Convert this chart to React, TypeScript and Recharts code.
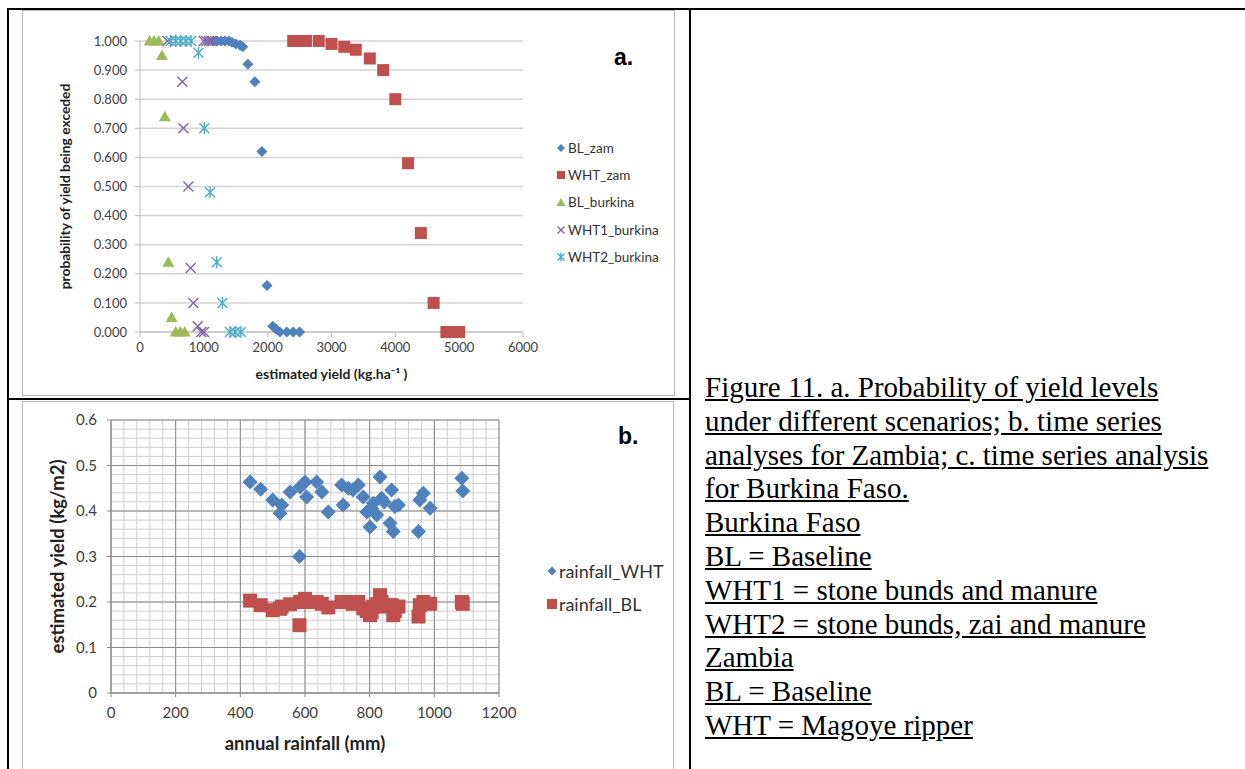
import React from 'react';
import { ScatterChart, Scatter, XAxis, YAxis, CartesianGrid } from 'recharts';

// ---- chart a: probability of yield being exceeded ----
const BL_ZAM_X = [1150, 1210, 1270, 1330, 1390, 1440, 1500, 1570, 1610, 1690, 1800, 1910, 1990, 2080, 2130, 2190, 2300, 2400, 2500];
const BL_ZAM_Y = [1, 1, 1, 1, 1, 0.996, 0.99, 0.985, 0.98, 0.92, 0.86, 0.62, 0.16, 0.02, 0.01, 0, 0, 0, 0];

const WHT_ZAM_X = [2400, 2500, 2600, 2800, 3000, 3200, 3380, 3600, 3810, 4000, 4200, 4400, 4600, 4800, 4900, 5000];
const WHT_ZAM_Y = [1, 1, 1, 1, 0.99, 0.98, 0.97, 0.94, 0.9, 0.8, 0.58, 0.34, 0.1, 0, 0, 0];

const BL_BURKINA_X = [150, 220, 290, 345, 390, 444, 496, 560, 630, 700];
const BL_BURKINA_Y = [1, 1, 1, 0.95, 0.74, 0.24, 0.05, 0, 0, 0];

const WHT1_BURKINA_X = [430, 1000, 1040, 1080, 1120, 663, 680, 758, 794, 836, 904, 960, 1003];
const WHT1_BURKINA_Y = [1, 1, 1, 1, 1, 0.86, 0.7, 0.5, 0.22, 0.1, 0.02, 0, 0];

const WHT2_BURKINA_X = [480, 560, 640, 720, 800, 915, 1008, 1097, 1202, 1290, 1410, 1490, 1580];
const WHT2_BURKINA_Y = [1, 1, 1, 1, 1, 0.96, 0.7, 0.48, 0.24, 0.1, 0, 0, 0];

const YIELD_TICKS = [0, 1000, 2000, 3000, 4000, 5000, 6000];
const PROB_TICKS = [0, 0.1, 0.2, 0.3, 0.4, 0.5, 0.6, 0.7, 0.8, 0.9, 1];

// ---- chart b: Zambia time series ----
const RAINFALL = [430, 463, 500, 523, 528, 554, 583, 585, 600, 605, 636, 652, 672, 713, 718, 734, 748, 765, 780, 791, 801, 806, 811, 822, 832, 837, 845, 863, 868, 873, 878, 889, 951, 955, 966, 987, 1085, 1088];
const YIELD_WHT = [0.464, 0.448, 0.424, 0.395, 0.413, 0.442, 0.3, 0.453, 0.464, 0.431, 0.464, 0.442, 0.398, 0.457, 0.413, 0.45, 0.446, 0.457, 0.431, 0.398, 0.365, 0.405, 0.417, 0.391, 0.475, 0.428, 0.42, 0.373, 0.446, 0.355, 0.41, 0.413, 0.355, 0.424, 0.439, 0.406, 0.472, 0.444];
const YIELD_BL = [0.203, 0.193, 0.182, 0.185, 0.19, 0.195, 0.149, 0.2, 0.207, 0.2, 0.2, 0.196, 0.188, 0.2, 0.2, 0.2, 0.196, 0.2, 0.186, 0.18, 0.171, 0.178, 0.19, 0.195, 0.215, 0.2, 0.19, 0.193, 0.193, 0.171, 0.18, 0.19, 0.168, 0.193, 0.2, 0.196, 0.2, 0.196];

const RAIN_TICKS = [0, 200, 400, 600, 800, 1000, 1200];
const KG_TICKS = [0, 0.1, 0.2, 0.3, 0.4, 0.5, 0.6];
// minor gridlines (every 40 mm / 0.02 kg)
const RAIN_MINOR = Array.from({ length: 31 }, (_, i) => i * 40);
const KG_MINOR = Array.from({ length: 31 }, (_, i) => i / 50);

const CAPTION = [
  'Figure 11. a. Probability of yield levels',
  'under different scenarios; b. time series',
  'analyses for Zambia; c. time series analysis',
  'for Burkina Faso.',
  'Burkina Faso',
  'BL = Baseline',
  'WHT1 = stone bunds and manure',
  'WHT2 = stone bunds, zai and manure',
  'Zambia',
  'BL = Baseline',
  'WHT = Magoye ripper',
];

const BLUE = '#4F81BD';
const RED = '#C0504D';
const GREEN = '#9BBB59';
const PURPLE = '#8064A2';
const CYAN = '#4BACC6';
const FONT = 'Lato, "Open Sans", sans-serif';

const zip = (xs: number[], ys: number[]) => xs.map((x, i) => ({ x, y: ys[i] }));

const diamond = (r: number, fill: string) => (p: any) => (
  <path d={`M${p.cx},${p.cy - r}L${p.cx + r},${p.cy}L${p.cx},${p.cy + r}L${p.cx - r},${p.cy}Z`} fill={fill} />
);
const square = (r: number, fill: string) => (p: any) => (
  <rect x={p.cx - r} y={p.cy - r} width={r * 2} height={r * 2} fill={fill} />
);
const triangle = (r: number, fill: string) => (p: any) => (
  <path d={`M${p.cx},${p.cy - r}L${p.cx + r},${p.cy + r * 0.75}L${p.cx - r},${p.cy + r * 0.75}Z`} fill={fill} />
);
const cross = (r: number, stroke: string) => (p: any) => (
  <path
    d={`M${p.cx - r},${p.cy - r}L${p.cx + r},${p.cy + r}M${p.cx - r},${p.cy + r}L${p.cx + r},${p.cy - r}`}
    stroke={stroke}
    strokeWidth={1.4}
    fill="none"
  />
);
const star = (r: number, stroke: string) => (p: any) => (
  <path
    d={`M${p.cx - r},${p.cy - r}L${p.cx + r},${p.cy + r}M${p.cx - r},${p.cy + r}L${p.cx + r},${p.cy - r}M${p.cx},${p.cy - r * 1.2}L${p.cx},${p.cy + r * 1.2}`}
    stroke={stroke}
    strokeWidth={1.4}
    fill="none"
  />
);

const tickStyle = (size: number) => ({ fontSize: size, fill: '#404040', fontFamily: FONT });

function LegendRow({ top, left, icon, label, size }: { top: number; left: number; icon: React.ReactNode; label: string; size: number }) {
  return (
    <div style={{ position: 'absolute', top, left, display: 'flex', alignItems: 'center', fontFamily: FONT, fontSize: size, color: '#333', whiteSpace: 'nowrap' }}>
      <svg width={10} height={10} style={{ marginRight: 2 }}>
        {icon}
      </svg>
      {label}
    </div>
  );
}

function ChartA() {
  return (
    <div style={{ position: 'absolute', left: 22, top: 10, width: 653, height: 386, border: '1px solid #b8b8b8', boxSizing: 'border-box', background: '#fff' }}>
      <div style={{ position: 'absolute', left: -1, top: -1 }}>
        <ScatterChart width={653} height={386} margin={{ top: 31, right: 152, bottom: 0, left: 0 }}>
          <CartesianGrid vertical={false} stroke="#d3d3d3" strokeWidth={1.5} />
          <XAxis
            type="number"
            dataKey="x"
            domain={[0, 6000]}
            ticks={YIELD_TICKS}
            height={64}
            tick={tickStyle(13)}
            tickSize={5}
            tickMargin={6}
            axisLine={{ stroke: '#bcbcbc' }}
            tickLine={{ stroke: '#bcbcbc' }}
            label={{ value: 'estimated yield (kg.ha\u207B\u00B9 )', position: 'insideBottom', offset: 17, style: { fontWeight: 'bold', fontSize: 14, fill: '#222', fontFamily: FONT } }}
          />
          <YAxis
            type="number"
            dataKey="y"
            domain={[0, 1]}
            ticks={PROB_TICKS}
            width={118}
            tickFormatter={(v: number) => v.toFixed(3)}
            tick={tickStyle(13)}
            tickSize={5}
            tickMargin={8}
            axisLine={{ stroke: '#bcbcbc' }}
            tickLine={{ stroke: '#bcbcbc' }}
            label={{ value: 'probability of yield being exceded', angle: -90, position: 'insideLeft', offset: 43, style: { textAnchor: 'middle', fontWeight: 'bold', fontSize: 13.8, fill: '#222', fontFamily: FONT } }}
          />
          <Scatter name="BL_zam" data={zip(BL_ZAM_X, BL_ZAM_Y)} shape={diamond(5.5, BLUE)} isAnimationActive={false} />
          <Scatter name="WHT_zam" data={zip(WHT_ZAM_X, WHT_ZAM_Y)} shape={square(6, RED)} isAnimationActive={false} />
          <Scatter name="BL_burkina" data={zip(BL_BURKINA_X, BL_BURKINA_Y)} shape={triangle(6, GREEN)} isAnimationActive={false} />
          <Scatter name="WHT1_burkina" data={zip(WHT1_BURKINA_X, WHT1_BURKINA_Y)} shape={cross(5, PURPLE)} isAnimationActive={false} />
          <Scatter name="WHT2_burkina" data={zip(WHT2_BURKINA_X, WHT2_BURKINA_Y)} shape={star(5, CYAN)} isAnimationActive={false} />
        </ScatterChart>
      </div>
      <div style={{ position: 'absolute', left: 591, top: 33, fontFamily: '"Liberation Sans", Arial, sans-serif', fontWeight: 'bold', fontSize: 23, color: '#000' }}>a.</div>
      <LegendRow top={129} left={533} size={13.5} label="BL_zam" icon={diamond(4, BLUE)({ cx: 5, cy: 5 })} />
      <LegendRow top={156} left={533} size={13.5} label="WHT_zam" icon={square(4, RED)({ cx: 5, cy: 5 })} />
      <LegendRow top={183} left={533} size={13.5} label="BL_burkina" icon={triangle(4.5, GREEN)({ cx: 5, cy: 5.5 })} />
      <LegendRow top={211} left={533} size={13.5} label="WHT1_burkina" icon={cross(3.5, PURPLE)({ cx: 5, cy: 5 })} />
      <LegendRow top={238} left={533} size={13.5} label="WHT2_burkina" icon={star(3.5, CYAN)({ cx: 5, cy: 5 })} />
    </div>
  );
}

function ChartB() {
  return (
    <div style={{ position: 'absolute', left: 22, top: 401, width: 652, height: 380, border: '1px solid #b8b8b8', boxSizing: 'border-box', background: '#fff' }}>
      <div style={{ position: 'absolute', left: -1, top: -1 }}>
        <ScatterChart width={651} height={368} margin={{ top: 19, right: 174, bottom: 0, left: 0 }}>
          <CartesianGrid stroke="#cdcdcd" verticalValues={RAIN_MINOR} horizontalValues={KG_MINOR} />
          <CartesianGrid stroke="#8a8a8a" fill="none" />
          <XAxis
            type="number"
            dataKey="x"
            domain={[0, 1200]}
            ticks={RAIN_TICKS}
            interval={0}
            height={76}
            tick={tickStyle(15)}
            tickSize={4}
            tickMargin={10}
            axisLine={{ stroke: '#8a8a8a' }}
            tickLine={{ stroke: '#8a8a8a' }}
            label={{ value: 'annual rainfall (mm)', position: 'insideBottom', offset: 19, style: { fontWeight: 'bold', fontSize: 18.5, fill: '#222', fontFamily: FONT } }}
          />
          <YAxis
            type="number"
            dataKey="y"
            domain={[0, 0.6]}
            ticks={KG_TICKS}
            interval={0}
            width={89}
            tick={tickStyle(15)}
            tickSize={4}
            tickMargin={10}
            axisLine={{ stroke: '#8a8a8a' }}
            tickLine={{ stroke: '#8a8a8a' }}
            label={{ value: 'estimated yield (kg/m2)', angle: -90, position: 'insideLeft', offset: 35, style: { textAnchor: 'middle', fontWeight: 'bold', fontSize: 18.5, fill: '#222', fontFamily: FONT } }}
          />
          <Scatter name="rainfall_WHT" data={zip(RAINFALL, YIELD_WHT)} shape={diamond(7.5, BLUE)} isAnimationActive={false} />
          <Scatter name="rainfall_BL" data={zip(RAINFALL, YIELD_BL)} shape={square(7, RED)} isAnimationActive={false} />
        </ScatterChart>
      </div>
      <div style={{ position: 'absolute', left: 595, top: 21, fontFamily: '"Liberation Sans", Arial, sans-serif', fontWeight: 'bold', fontSize: 23, color: '#000' }}>b.</div>
      <LegendRow top={158} left={524} size={18} label="rainfall_WHT" icon={diamond(4.5, BLUE)({ cx: 5, cy: 5 })} />
      <LegendRow top={191} left={524} size={18} label="rainfall_BL" icon={square(5, RED)({ cx: 5, cy: 5 })} />
    </div>
  );
}

export default function App() {
  return (
    <div style={{ position: 'relative', width: 1245, height: 769, background: '#fff', overflow: 'hidden' }}>
      <style>{'body{margin:0}'}</style>
      <ChartA />
      <ChartB />
      {/* table rules */}
      <div style={{ position: 'absolute', left: 7, top: 8, width: 1238, height: 2, background: '#000' }} />
      <div style={{ position: 'absolute', left: 7, top: 8, width: 2, height: 761, background: '#000' }} />
      <div style={{ position: 'absolute', left: 689, top: 8, width: 2, height: 761, background: '#000' }} />
      <div style={{ position: 'absolute', left: 7, top: 398, width: 684, height: 2, background: '#000' }} />
      <div style={{ position: 'absolute', left: 705, top: 371, fontFamily: '"Liberation Serif", "Times New Roman", serif', fontSize: 29, lineHeight: '33.8px', color: '#000' }}>
        {CAPTION.map((line, i) => (
          <div key={i} style={{ textDecoration: 'underline', whiteSpace: 'nowrap' }}>
            {line}
          </div>
        ))}
      </div>
    </div>
  );
}
